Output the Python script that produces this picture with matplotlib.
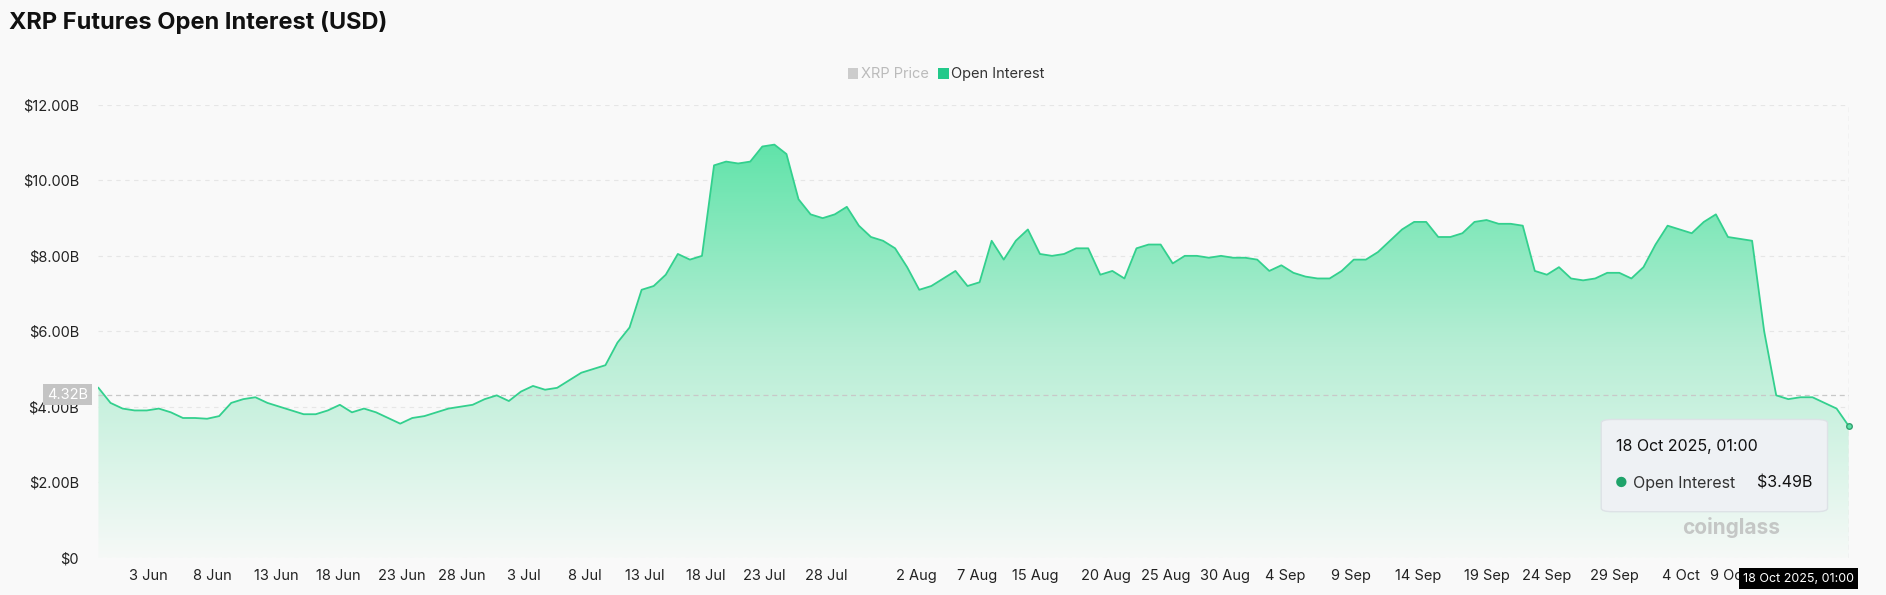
import matplotlib
matplotlib.use("Agg")
import matplotlib.pyplot as plt
import numpy as np
from matplotlib.patches import FancyBboxPatch, Rectangle
from matplotlib.colors import LinearSegmentedColormap

plt.rcParams['font.family'] = ['Inter', 'DejaVu Sans']

oi = [4.5,4.1,3.95,3.9,3.9,3.95,3.85,3.7,3.7,3.68,3.75,4.1,4.2,4.25,4.1,4.0,3.9,3.8,3.8,3.9,
      4.05,3.85,3.95,3.85,3.7,3.55,3.7,3.75,3.85,3.95,4.0,4.05,4.2,4.3,4.15,4.4,4.55,4.45,4.5,4.7,
      4.9,5.0,5.1,5.7,6.1,7.1,7.2,7.5,8.05,7.9,8.0,10.4,10.5,10.45,10.5,10.9,10.95,10.7,9.5,9.1,
      9.0,9.1,9.3,8.8,8.5,8.4,8.2,7.7,7.1,7.2,7.4,7.6,7.2,7.3,8.4,7.9,8.4,8.7,8.05,8.0,
      8.05,8.2,8.2,7.5,7.6,7.4,8.2,8.3,8.3,7.8,8.0,8.0,7.95,8.0,7.95,7.95,7.9,7.6,7.75,7.55,
      7.45,7.4,7.4,7.6,7.9,7.9,8.1,8.4,8.7,8.9,8.9,8.5,8.5,8.6,8.9,8.95,8.85,8.85,8.8,7.6,
      7.5,7.7,7.4,7.35,7.4,7.55,7.55,7.4,7.7,8.3,8.8,8.7,8.6,8.9,9.1,8.5,8.45,8.4,6.0,4.3,
      4.2,4.25,4.25,4.1,3.95,3.49]
tick_labels = ["3 Jun","8 Jun","13 Jun","18 Jun","23 Jun","28 Jun","3 Jul","8 Jul","13 Jul","18 Jul",
               "23 Jul","28 Jul","2 Aug","7 Aug","15 Aug","20 Aug","25 Aug","30 Aug","4 Sep","9 Sep",
               "14 Sep","19 Sep","24 Sep","29 Sep","4 Oct","9 Oct"]
tick_idx = [4.1,9.4,14.7,19.9,25.1,30.1,35.2,40.3,45.3,50.3,55.2,60.3,67.8,72.8,77.6,83.5,88.4,93.3,
            98.3,103.8,109.3,115.0,120.0,125.6,131.1,135.1]
yticks = [0,2,4,6,8,10,12]
ylabels = ["$0","$2.00B","$4.00B","$6.00B","$8.00B","$10.00B","$12.00B"]

bg = "#f9f9f9"
fig = plt.figure(figsize=(18.86,5.95), dpi=100, facecolor=bg)
ax = fig.add_axes([0.0522,0.063,0.928,0.7605], facecolor=bg)
x = np.arange(len(oi))
xmax = len(oi)-1
ax.set_xlim(0, xmax); ax.set_ylim(0, 12)

grad = np.linspace(0,1,256).reshape(-1,1)
cmap = LinearSegmentedColormap.from_list("g", ["#f6f9f7", "#b7eed5", "#5de3a8"])
im = ax.imshow(grad, extent=[0,xmax,0,11.2], origin="lower", aspect="auto", cmap=cmap, zorder=1)
poly = ax.fill_between(x, oi, 0, color="none")
im.set_clip_path(poly.get_paths()[0], transform=ax.transData)
ax.plot(x, oi, color="#33d08e", lw=1.3, zorder=3, solid_joinstyle="round")
ax.plot([xmax],[oi[-1]], "o", ms=4, mfc="#5de3a8", mec="#33a070", zorder=4, clip_on=False)

for y in yticks:
    ax.axhline(y, color="#e6e6e6", lw=0.8, ls=(0,(4,4)), zorder=0)
ax.axhline(4.32, color="#c8c8c8", lw=0.9, ls=(0,(4,3)), zorder=2)
ax.axvline(xmax, color="#c8c8c8", lw=0.9, ls=(0,(4,3)), zorder=2)
for s in ax.spines.values(): s.set_visible(False)
ax.set_yticks(yticks); ax.set_yticklabels(ylabels, fontsize=10.5, color="#222")
ax.set_xticks(tick_idx); ax.set_xticklabels(tick_labels, fontsize=10.5, color="#222")
ax.tick_params(length=0, pad=8)
ax.tick_params(axis="y", pad=14)

ax.text(-0.006, 4.32, "4.32B", transform=ax.get_yaxis_transform(), ha="right", va="center",
        fontsize=10.5, color="white", bbox=dict(boxstyle="square,pad=0.25", fc="#c4c4c4", ec="none"), zorder=6)
ax.text(1.003, -0.047, "18 Oct 2025, 01:00", transform=ax.transAxes, ha="right", va="center",
        fontsize=9, color="white", bbox=dict(boxstyle="square,pad=0.35", fc="black", ec="none"), zorder=6, clip_on=False)

tb = FancyBboxPatch((0.849,0.14),0.12,0.155, boxstyle="round,pad=0,rounding_size=0.006",
                    transform=fig.transFigure, fc="#eef1f4", ec="#dde2e6", lw=1, zorder=10)
fig.patches.append(tb)
fig.text(0.857,0.249,"18 Oct 2025, 01:00", fontsize=11.5, color="#111", va="center", zorder=11)
fig.text(0.856,0.188,"●", fontsize=10, color="#1fa36a", va="center", zorder=11)
fig.text(0.866,0.188,"Open Interest", fontsize=11.5, color="#333", va="center", zorder=11)
fig.text(0.961,0.188,"$3.49B", fontsize=11.5, color="#111", va="center", ha="right", zorder=11)
fig.text(0.918,0.113,"coinglass", fontsize=15, color="#bbbbbb", fontweight="bold", ha="center", va="center", alpha=0.8)

fig.patches.append(Rectangle((0.4495,0.868),0.0055,0.017,transform=fig.transFigure,fc="#cccccc",ec="none"))
fig.text(0.4565,0.876,"XRP Price",fontsize=10.5,color="#bbbbbb",va="center")
fig.patches.append(Rectangle((0.4975,0.868),0.0055,0.017,transform=fig.transFigure,fc="#22c98a",ec="none"))
fig.text(0.5045,0.876,"Open Interest",fontsize=10.5,color="#333",va="center")

fig.text(0.005,0.962,"XRP Futures Open Interest (USD)",fontsize=17,fontweight="bold",color="#111",va="center")
fig.savefig("out.png", dpi=100, facecolor=bg)
